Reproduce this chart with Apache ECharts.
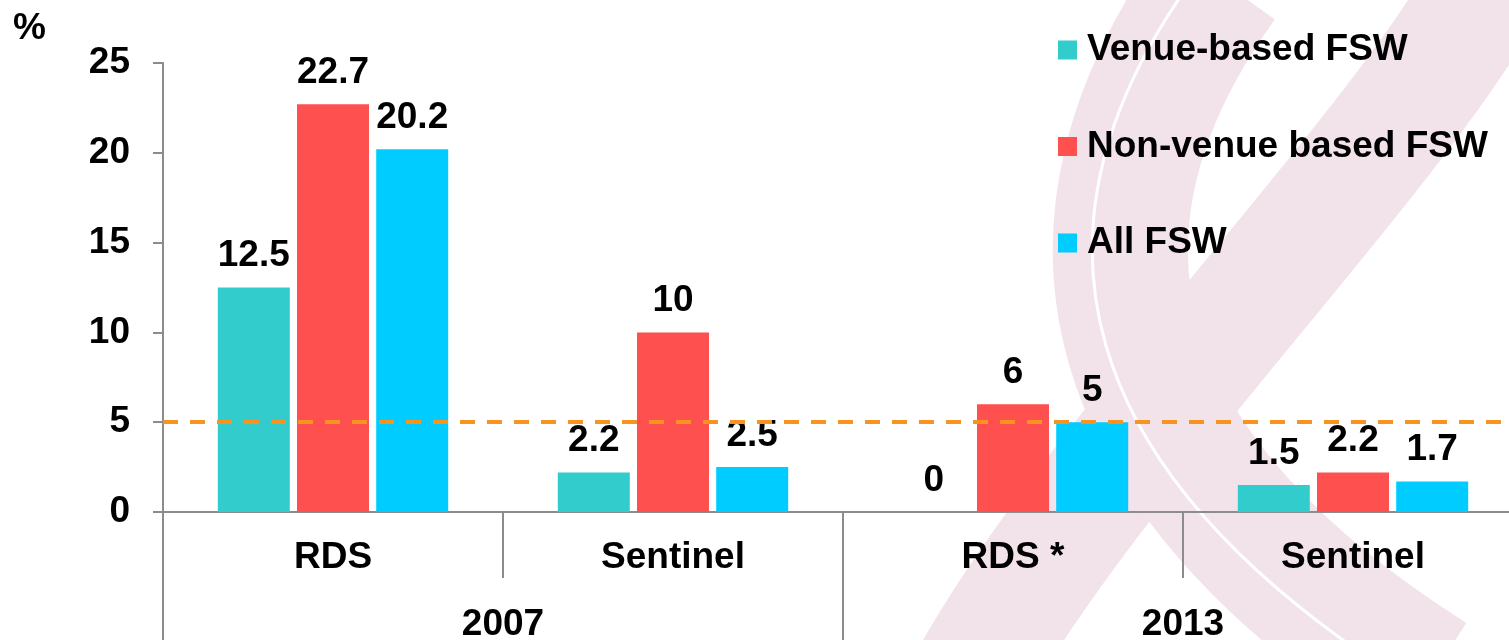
<!DOCTYPE html>
<html>
<head>
<meta charset="utf-8">
<script src="https://cdn.jsdelivr.net/npm/echarts@6/dist/echarts.min.js"></script>
<style>
  html, body { margin: 0; padding: 0; background: #fff; }
  #main { width: 1509px; height: 640px; }
</style>
</head>
<body>
<div id="main"></div>
<script>
// data
var categories = ['RDS', 'Sentinel', 'RDS *', 'Sentinel'];
var years = ['2007', '2013'];
var venueBased = [12.5, 2.2, 0, 1.5];
var nonVenueBased = [22.7, 10, 6, 2.2];
var allFsw = [20.2, 2.5, 5, 1.7];
var seriesNames = ['Venue-based FSW', 'Non-venue based FSW', 'All FSW'];
var yMin = 0, yMax = 25, yStep = 5;
var threshold = 5;

var font = "'Liberation Sans', Arial, sans-serif";
var txt = { color: '#000', fontFamily: font, fontWeight: 'bold', fontSize: 37 };
var axisGrey = '#8c8c8c';
var ribbon = '#f2e2e9';

function barLabel() {
    return {
        show: true, position: 'top', distance: 13,
        color: '#000', fontFamily: font, fontWeight: 'bold', fontSize: 37
    };
}

var myChart = echarts.init(document.getElementById('main'));

myChart.setOption({
    animation: false,
    backgroundColor: '#fff',
    // plot runs a little past the right edge of the picture
    grid: { left: 163, width: 1360, top: 63, height: 449, containLabel: false, outerBoundsMode: 'none' },
    // faint ribbon in the background
    graphic: [
        {
            type: 'bezierCurve', z: -10, silent: true,
            shape: { x1: 1490, y1: -20, cpx1: 1400, cpy1: 150, cpx2: 1100, cpy2: 450, x2: 975, y2: 670 },
            style: { fill: null, stroke: ribbon, lineWidth: 120 }
        },
        {
            type: 'bezierCurve', z: -10, silent: true,
            shape: { x1: 1220, y1: -20, cpx1: 1040, cpy1: 230, cpx2: 1100, cpy2: 470, x2: 1430, y2: 680 },
            style: { fill: null, stroke: ribbon, lineWidth: 135 }
        },
        {
            type: 'bezierCurve', z: -9, silent: true,
            shape: { x1: 1192, y1: -20, cpx1: 1012, cpy1: 230, cpx2: 1072, cpy2: 470, x2: 1402, y2: 680 },
            style: { fill: null, stroke: '#ffffff', lineWidth: 3 }
        },
        {
            type: 'text', left: 13, top: 10,
            style: { text: '%', fill: '#000', font: 'bold 37px ' + font }
        }
    ],
    legend: {
        orient: 'vertical', left: 1058, top: 31.5, padding: 0,
        itemWidth: 19, itemHeight: 19, itemGap: 59.5, icon: 'rect',
        textStyle: { color: '#000', fontFamily: font, fontWeight: 'bold', fontSize: 37, lineHeight: 37, padding: [0, 0, 0, 5] },
        data: seriesNames
    },
    xAxis: [
        {
            type: 'category', data: categories, position: 'bottom',
            axisLine: { lineStyle: { color: axisGrey, width: 2 } },
            axisTick: { show: true, length: 66, lineStyle: { color: axisGrey, width: 2 } },
            axisLabel: Object.assign({ margin: 27, interval: 0 }, txt)
        },
        {
            type: 'category', data: years, position: 'bottom',
            axisLine: { show: false },
            axisTick: { show: true, length: 140, lineStyle: { color: axisGrey, width: 2 } },
            axisLabel: Object.assign({ margin: 94, interval: 0 }, txt)
        }
    ],
    yAxis: {
        type: 'value', min: yMin, max: yMax, interval: yStep,
        axisLine: { show: true, lineStyle: { color: axisGrey, width: 2 } },
        axisTick: { show: true, length: 10, lineStyle: { color: axisGrey, width: 2 } },
        splitLine: { show: false },
        axisLabel: Object.assign({ margin: 33 }, txt)
    },
    series: [
        {
            name: seriesNames[0], type: 'bar', data: venueBased,
            barWidth: 72, barGap: '10%',
            itemStyle: { color: '#33cccc' },
            label: barLabel(),
            markLine: {
                silent: true, symbol: 'none',
                label: { show: false },
                lineStyle: { color: '#f7931e', type: [15, 12], width: 4 },
                data: [{ yAxis: threshold }]
            }
        },
        {
            name: seriesNames[1], type: 'bar', data: nonVenueBased,
            barWidth: 72, barGap: '10%',
            itemStyle: { color: '#ff5050' },
            label: barLabel()
        },
        {
            name: seriesNames[2], type: 'bar', data: allFsw,
            barWidth: 72, barGap: '10%',
            itemStyle: { color: '#00ccff' },
            label: barLabel()
        }
    ]
});
</script>
</body>
</html>
